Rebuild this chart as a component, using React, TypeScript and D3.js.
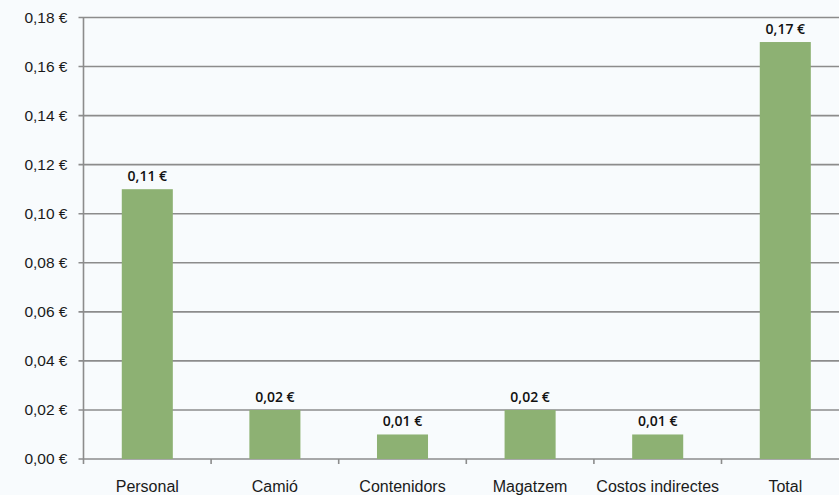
import React, { useEffect, useRef } from 'react'
import * as d3 from 'd3'

const categories = ['Personal', 'Camió', 'Contenidors', 'Magatzem', 'Costos indirectes', 'Total']
const costs = [0.11, 0.02, 0.01, 0.02, 0.01, 0.17]
const yTicks = [0, 0.02, 0.04, 0.06, 0.08, 0.1, 0.12, 0.14, 0.16, 0.18]

const W = 839
const H = 495
const fmt = (v: number) => v.toFixed(2).replace('.', ',') + ' €'

const App: React.FC = () => {
    const svgRef = useRef<SVGSVGElement>(null)

    useEffect(() => {
        if (!svgRef.current) return
        const svg = d3.select(svgRef.current)
        svg.selectAll('*').remove()

        const left = 83.5, top = 17.5, bottom = 459
        // plot runs a little past the right edge of the picture
        const right = left + 127.6 * categories.length

        svg.append('rect').attr('width', W).attr('height', H).attr('fill', '#f8fbfd')

        const x = d3.scaleBand<string>().domain(categories).range([left, right]).paddingInner(0.6).paddingOuter(0.3)
        const y = d3.scaleLinear().domain([0, 0.18]).range([bottom, top])

        const grid = svg.append('g')
        grid.selectAll('line.grid')
            .data(yTicks)
            .enter().append('line')
            .attr('x1', left - 5).attr('x2', right)
            .attr('y1', d => y(d)).attr('y2', d => y(d))
            .attr('stroke', '#8c8c8c').attr('stroke-width', 1.6)

        grid.selectAll('text')
            .data(yTicks)
            .enter().append('text')
            .attr('x', left - 16).attr('y', d => y(d))
            .attr('dy', '0.35em')
            .attr('text-anchor', 'end')
            .style('font-family', 'Liberation Sans, Arial, sans-serif')
            .style('font-size', '15.5px')
            .style('fill', '#1a1a1a')
            .text(d => fmt(d))

        // y axis line
        svg.append('line')
            .attr('x1', left).attr('x2', left).attr('y1', top).attr('y2', bottom + 5)
            .attr('stroke', '#8c8c8c').attr('stroke-width', 1.6)

        // category boundary ticks
        const step = x.step()
        svg.selectAll('line.ctick')
            .data(categories.slice(1))
            .enter().append('line')
            .attr('x1', (d) => (x(d) as number) - step * 0.3)
            .attr('x2', (d) => (x(d) as number) - step * 0.3)
            .attr('y1', bottom).attr('y2', bottom + 5)
            .attr('stroke', '#8c8c8c').attr('stroke-width', 1.6)

        svg.selectAll('rect.bar')
            .data(costs)
            .enter().append('rect')
            .attr('x', (_, i) => x(categories[i]) as number)
            .attr('width', x.bandwidth())
            .attr('y', d => y(d))
            .attr('height', d => bottom - y(d))
            .attr('fill', '#8db173')

        svg.selectAll('text.val')
            .data(costs)
            .enter().append('text')
            .attr('x', (_, i) => (x(categories[i]) as number) + x.bandwidth() / 2)
            .attr('y', d => y(d) - 8)
            .attr('text-anchor', 'middle')
            .style('font-family', 'Open Sans, sans-serif')
            .style('font-weight', 600)
            .style('font-size', '14px')
            .style('fill', '#111')
            .text(d => fmt(d))

        svg.selectAll('text.cat')
            .data(categories)
            .enter().append('text')
            .attr('x', d => (x(d) as number) + x.bandwidth() / 2)
            .attr('y', 492)
            .attr('text-anchor', 'middle')
            .style('font-family', 'Liberation Sans, Arial, sans-serif')
            .style('font-size', '16px')
            .style('fill', '#1a1a1a')
            .text(d => d)
    }, [])

    return <svg ref={svgRef} width={W} height={H} style={{ display: 'block', position: 'absolute', left: 0, top: 0 }} />
}

export default App
